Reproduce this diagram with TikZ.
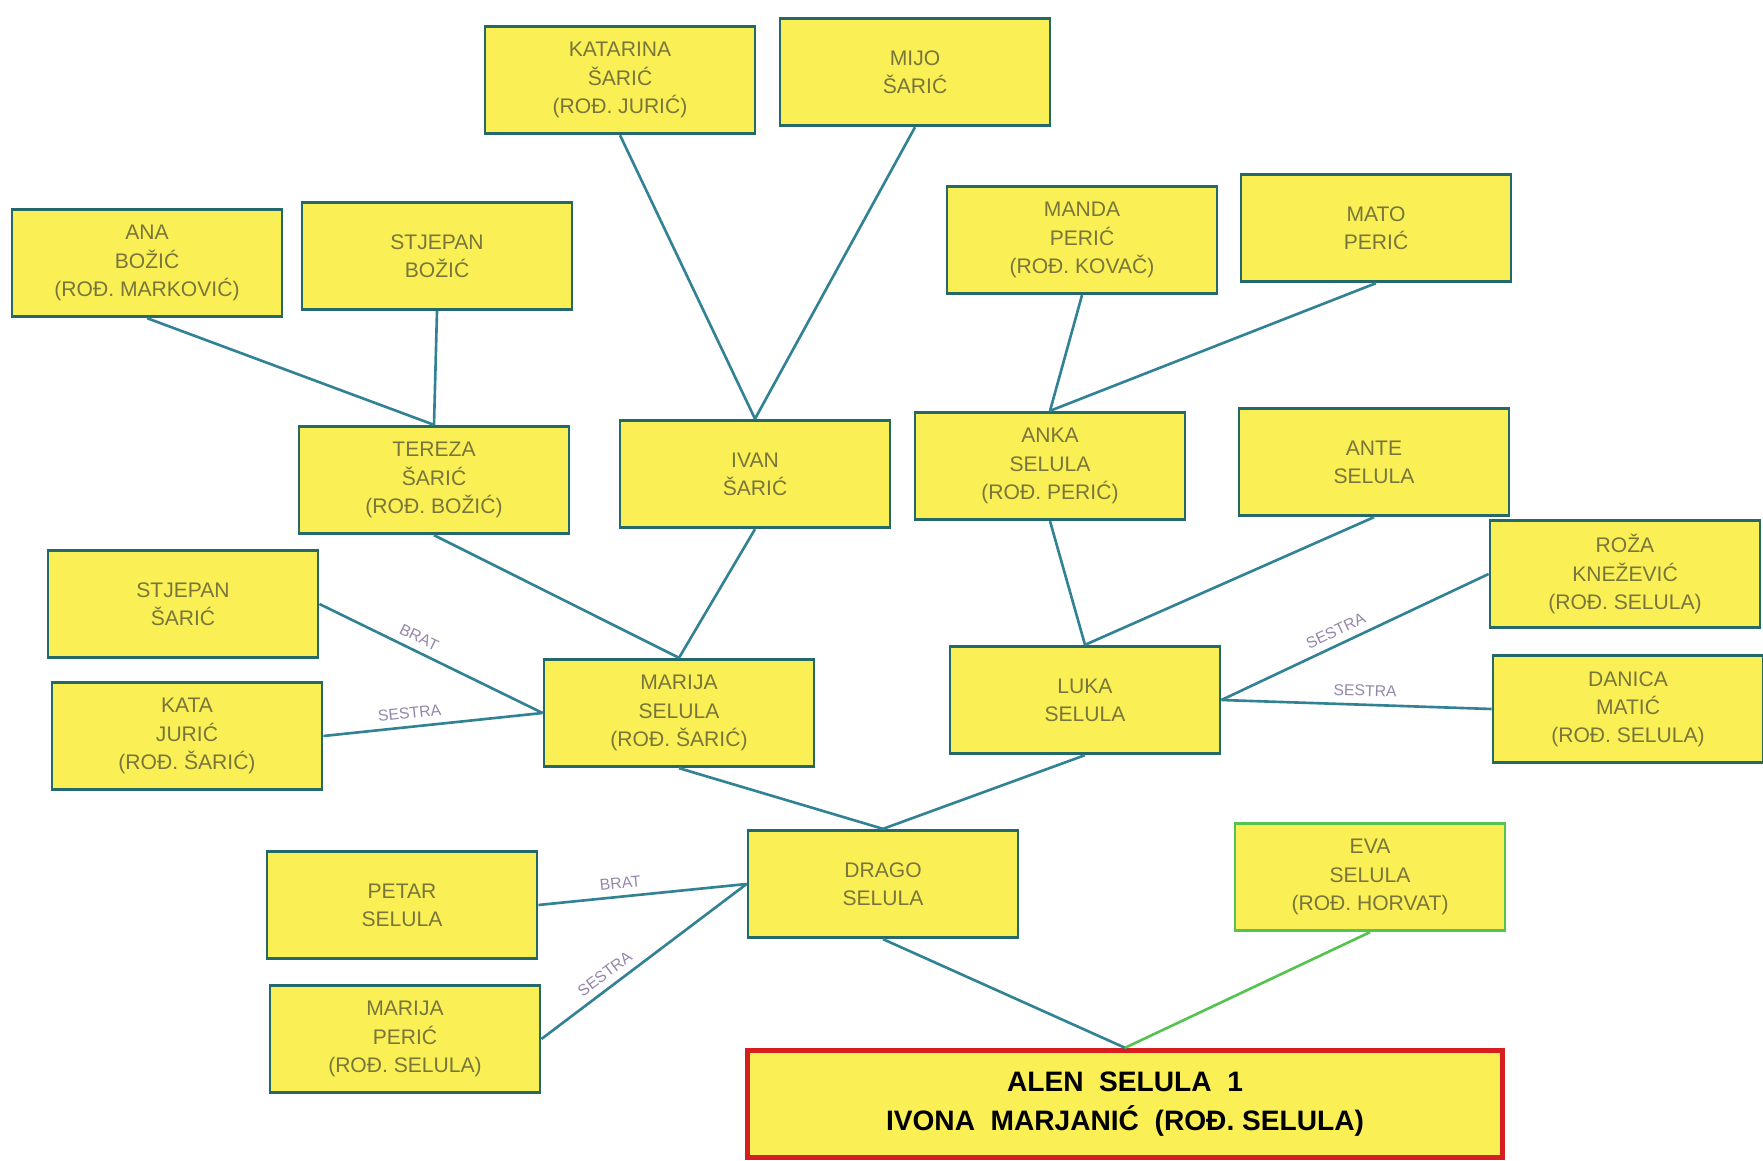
\documentclass[tikz,border=0pt]{standalone}
\usepackage{fontspec}
\setmainfont{Liberation Sans}
\definecolor{boxfill}{RGB}{250,240,85}
\definecolor{boxline}{RGB}{35,105,105}
\definecolor{linkcol}{RGB}{50,130,150}
\definecolor{inkcol}{RGB}{120,118,60}
\definecolor{tagcol}{RGB}{150,135,170}
\definecolor{momline}{RGB}{85,195,80}
\definecolor{rootline}{RGB}{215,30,30}
\begin{document}
\begin{tikzpicture}[x=0.2mm, y=-0.2mm,
		person/.style={draw=boxline, line width=1.6pt, fill=boxfill, minimum width=5.4cm, minimum height=2.15cm,
			align=center, text=inkcol, font=\fontsize{12}{16}\selectfont},
		link/.style={draw=linkcol, line width=1.5pt},
		tag/.style={sloped, above, inner sep=4pt, text=tagcol, font=\fontsize{9}{10}\selectfont}]
	\useasboundingbox (0,0) rectangle (1763,1161);

	\node [person] (katarina) at (620,80) {KATARINA\\ŠARIĆ\\(ROĐ. JURIĆ)};
	\node [person] (mijo) at (915,72) {MIJO\\ŠARIĆ};
	\node [person] (ana) at (147,263) {ANA\\BOŽIĆ\\(ROĐ. MARKOVIĆ)};
	\node [person] (stipe) at (437,256) {STJEPAN\\BOŽIĆ};
	\node [person] (manda) at (1082,240) {MANDA\\PERIĆ\\(ROĐ. KOVAČ)};
	\node [person] (mato) at (1376,228) {MATO\\PERIĆ};

	\node [person] (tereza) at (434,480) {TEREZA\\ŠARIĆ\\(ROĐ. BOŽIĆ)};
	\node [person] (ivan) at (755,474) {IVAN\\ŠARIĆ};
	\node [person] (anka) at (1050,466) {ANKA\\SELULA\\(ROĐ. PERIĆ)};
	\node [person] (ante) at (1374,462) {ANTE\\SELULA};

	\node [person] (stjepan) at (183,604) {STJEPAN\\ŠARIĆ};
	\node [person] (kata) at (187,736) {KATA\\JURIĆ\\(ROĐ. ŠARIĆ)};
	\node [person] (marija) at (679,713) {MARIJA\\SELULA\\(ROĐ. ŠARIĆ)};
	\node [person] (luka) at (1085,700) {LUKA\\SELULA};
	\node [person] (roza) at (1625,574) {ROŽA\\KNEŽEVIĆ\\(ROĐ. SELULA)};
	\node [person] (danica) at (1628,709) {DANICA\\MATIĆ\\(ROĐ. SELULA)};

	\node [person] (drago) at (883,884) {DRAGO\\SELULA};
	\node [person] (petar) at (402,905) {PETAR\\SELULA};
	\node [person] (mara) at (405,1039) {MARIJA\\PERIĆ\\(ROĐ. SELULA)};
	\node [person, draw=momline] (eva) at (1370,877) {EVA\\SELULA\\(ROĐ. HORVAT)};

	\node [person, draw=rootline, line width=2.8pt, minimum width=15.1cm, minimum height=2.15cm,
		text=black, font=\fontsize{16}{22}\selectfont\bfseries] (alen) at (1125,1104)
		{ALEN \ SELULA \ 1\\IVONA \ MARJANIĆ \ (ROĐ. SELULA)};

	\draw [link] (katarina.south) -- (ivan.north);
	\draw [link] (mijo.south) -- (ivan.north);
	\draw [link] (ana.south) -- (tereza.north);
	\draw [link] (stipe.south) -- (tereza.north);
	\draw [link] (manda.south) -- (anka.north);
	\draw [link] (mato.south) -- (anka.north);

	\draw [link] (tereza.south) -- (marija.north);
	\draw [link] (ivan.south) -- (marija.north);
	\draw [link] (anka.south) -- (luka.north);
	\draw [link] (ante.south) -- (luka.north);

	\draw [link] (stjepan.east) -- node [tag, pos=.42] {BRAT} (marija.west);
	\draw [link] (kata.east) -- node [tag, pos=.4] {SESTRA} (marija.west);
	\draw [link] (roza.west) -- node [tag, pos=.55] {SESTRA} (luka.east);
	\draw [link] (danica.west) -- node [tag, pos=.47] {SESTRA} (luka.east);

	\draw [link] (marija.south) -- (drago.north);
	\draw [link] (luka.south) -- (drago.north);
	\draw [link] (petar.east) -- node [tag, pos=.4] {BRAT} (drago.west);
	\draw [link] (mara.east) -- node [tag, pos=.35] {SESTRA} (drago.west);

	\draw [link] (drago.south) -- (alen.north);
	\draw [link, draw=momline] (eva.south) -- (alen.north);
\end{tikzpicture}
\end{document}
